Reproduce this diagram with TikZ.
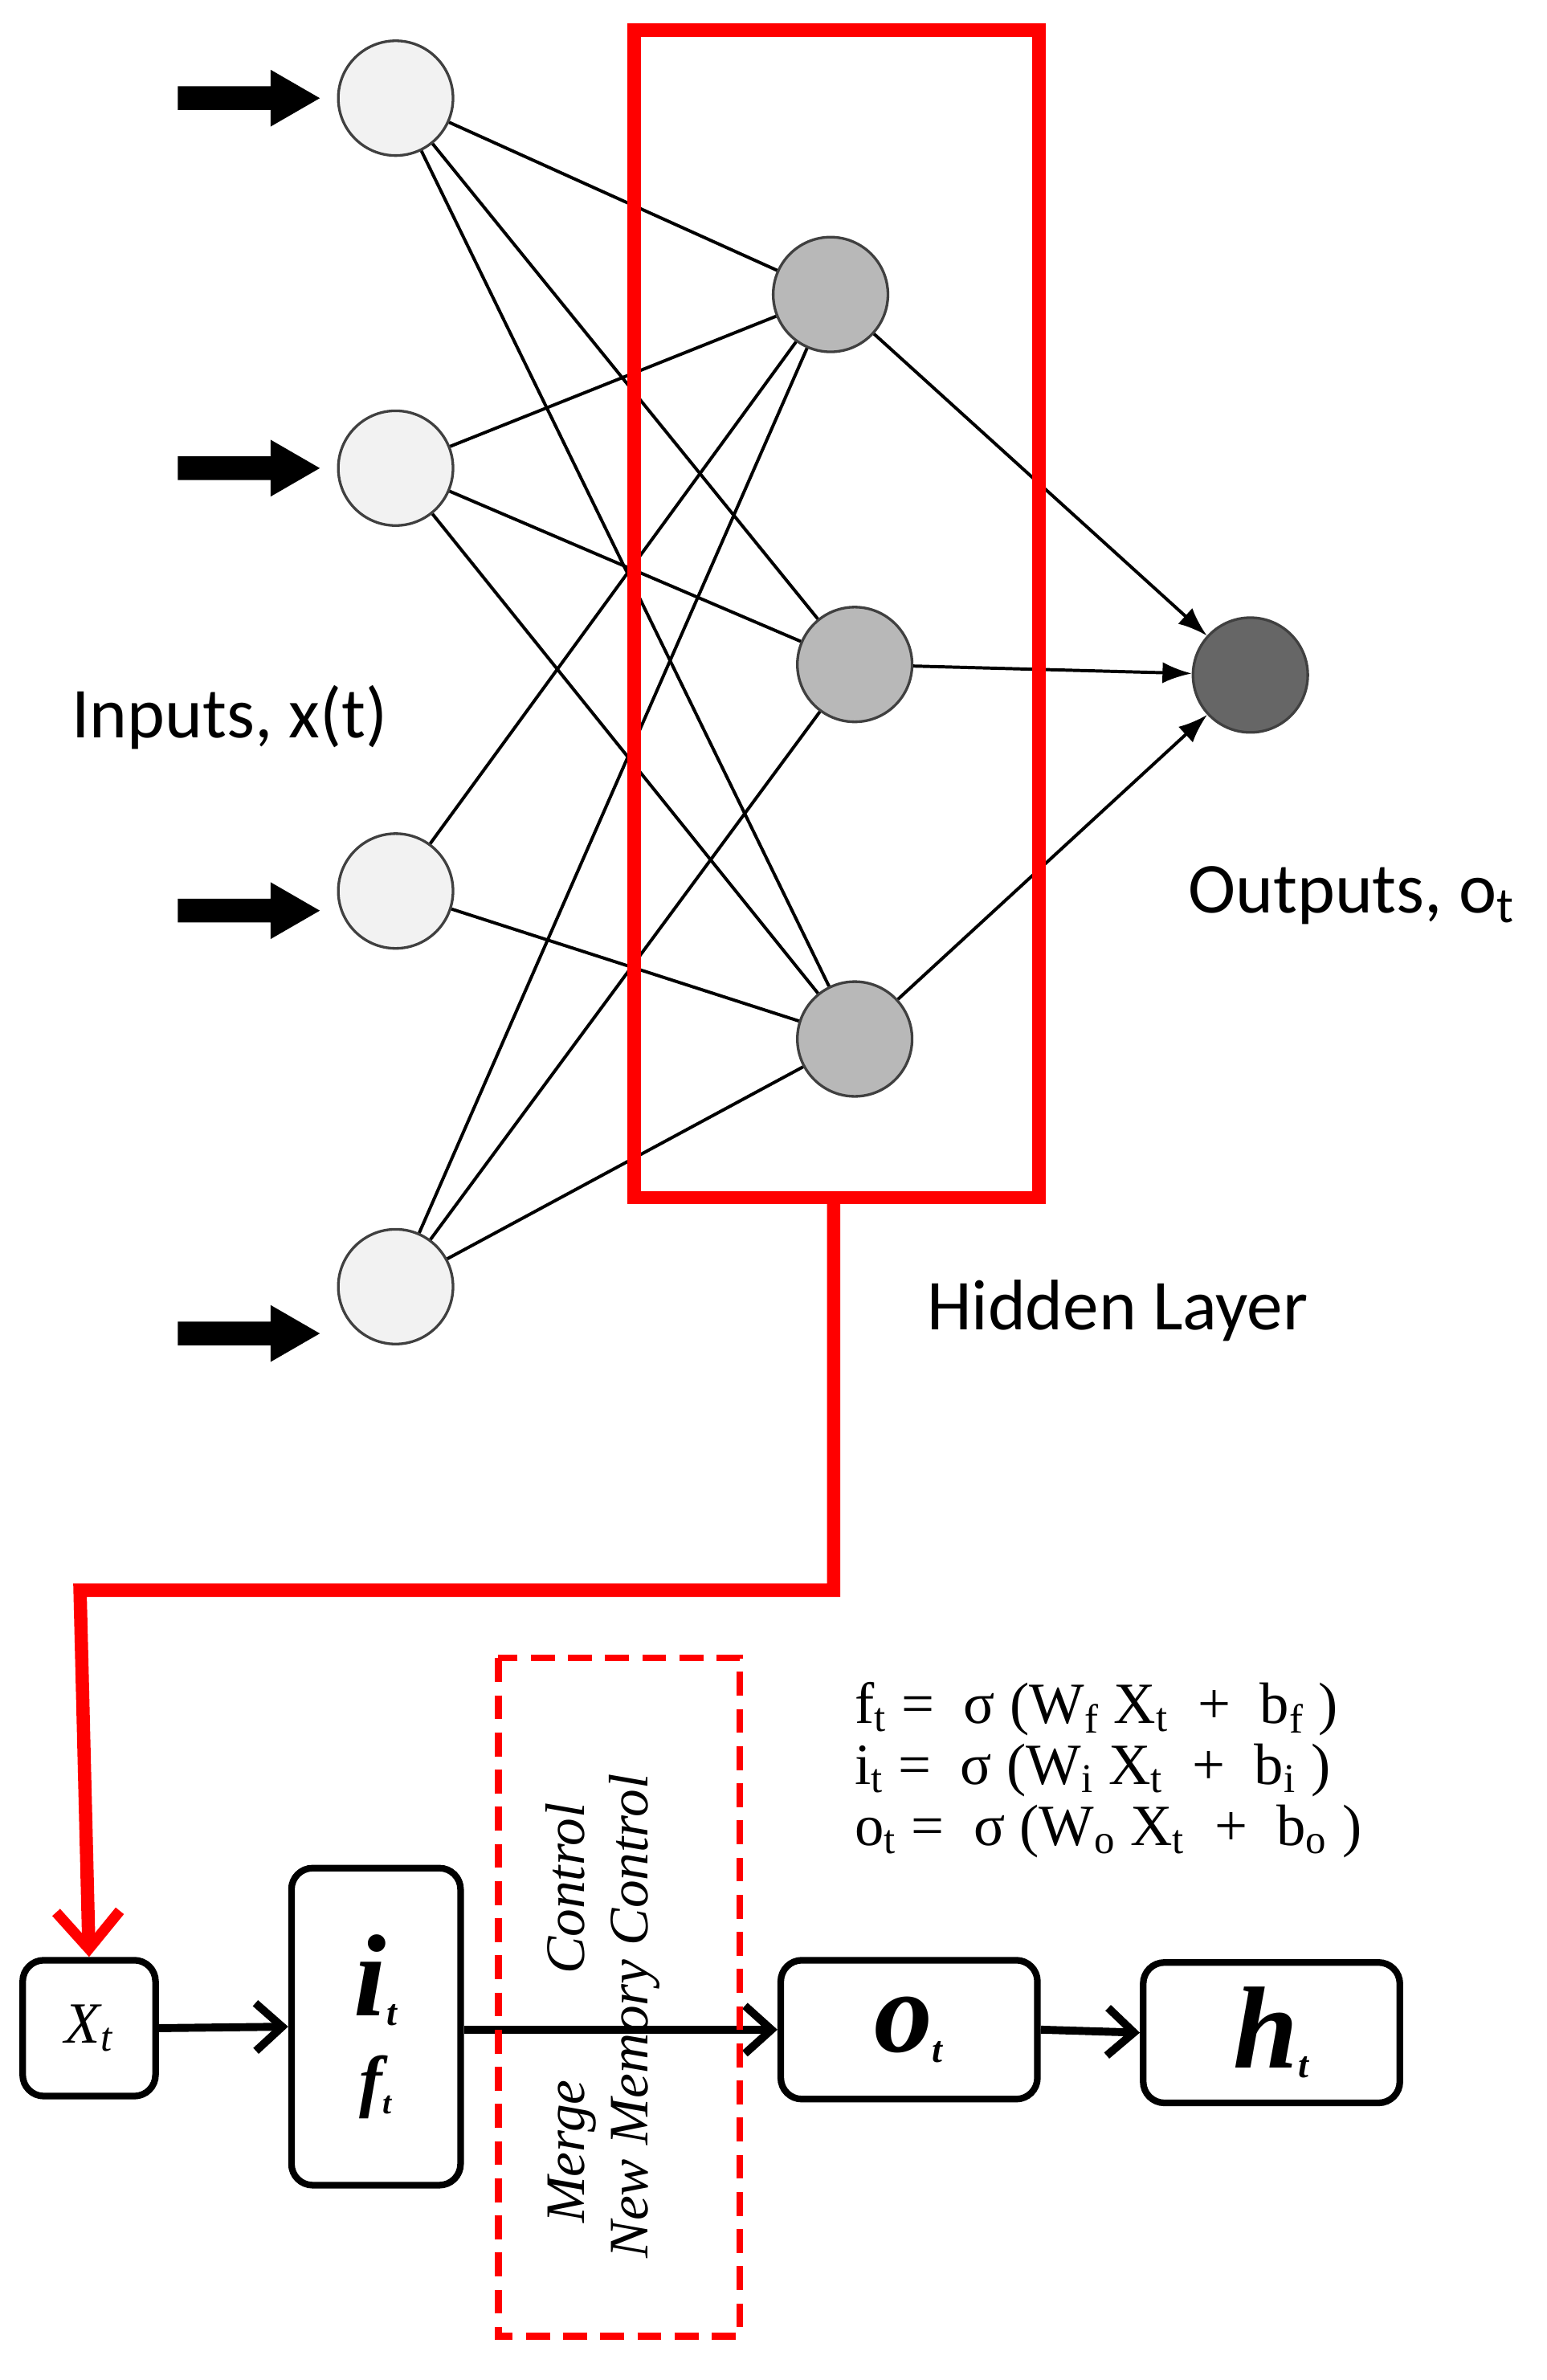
\documentclass[tikz,border=0pt]{standalone}
\usepackage{fontspec}
\setmainfont{Carlito}
\newfontfamily\eqf{Liberation Serif}
\usetikzlibrary{arrows.meta,shapes.arrows}
\begin{document}
\begin{tikzpicture}[x=0.02cm,y=-0.02cm,
 neu/.style={circle,draw=black!75,line width=1pt,minimum size=1.52cm,inner sep=0},
 inn/.style={neu,fill=black!5},
 hid/.style={neu,fill=black!28},
 outn/.style={neu,fill=black!60},
 conn/.style={line width=1.2pt},
 blk/.style={single arrow,fill=black,draw=none,minimum height=1.88cm,text height=0.3cm,text depth=0pt,text width=1.0cm,single arrow head extend=0.22cm,inner sep=0,single arrow tip angle=60},
 box/.style={draw,line width=2.5pt,rounded corners=8pt,inner sep=0},
 barr/.style={line width=3pt,-{Straight Barb[length=10pt,width=18pt,line width=3pt]}},
 lbl/.style={font=\fontsize{27}{30}\selectfont}]
\useasboundingbox (0,0) rectangle (1024,1576);
\node[inn] (i1) at (262,65) {};
\node[inn] (i2) at (262,310) {};
\node[inn] (i3) at (262,590) {};
\node[inn] (i4) at (262,852) {};
\node[hid] (h1) at (550,195) {};
\node[hid] (h2) at (566,440) {};
\node[hid] (h3) at (566,688) {};
\node[outn] (o) at (828,447) {};
\foreach \a in {i1,i2,i4}{\foreach \b in {h1,h2,h3}{\draw[conn] (\a) -- (\b);}}
\draw[conn] (i3) -- (h1);
\draw[conn] (i3) -- (h3);
\foreach \b in {h1,h2,h3}{\draw[conn,-{Latex[length=11pt,width=8pt]}] (\b) -- (o);}
\node[blk] (a1) at (158,65) {};
\node[blk] (a2) at (158,310) {};
\node[blk] (a3) at (158,603) {};
\node[blk] (a4) at (158,883) {};
\draw[red,line width=5pt] (420,20) rectangle (688,793);
\coordinate (r0) at (552,793);
\node[lbl] (tin) at (152,475) {Inputs, x(t)};
\node[lbl] (tout) at (895,593) {Outputs, o\textsubscript{t}};
\node[lbl] (thid) at (740,868) {Hidden Layer};
\node[box,minimum width=1.76cm,minimum height=1.8cm] (x) at (59,1343) {\eqf\itshape\fontsize{22}{22}\selectfont X\textsubscript{t}};
\node[box,minimum width=2.24cm,minimum height=4.2cm,align=center] (g) at (249,1342) {\eqf\bfseries\itshape\fontsize{44}{44}\selectfont i\textsubscript{\fontsize{14}{14}\selectfont t}\\[10pt]\eqf\bfseries\itshape\fontsize{26}{26}\selectfont f\textsubscript{\fontsize{12}{12}\selectfont t}};
\node[box,minimum width=3.4cm,minimum height=1.84cm] (ot) at (602,1344) {\eqf\bfseries\itshape\fontsize{44}{44}\selectfont o\textsubscript{\fontsize{14}{14}\selectfont t}};
\node[box,minimum width=3.4cm,minimum height=1.86cm] (ht) at (842,1346) {\eqf\bfseries\itshape\fontsize{44}{44}\selectfont h\textsubscript{\fontsize{14}{14}\selectfont t}};
\draw[red,line width=5pt,-{Straight Barb[length=14pt,width=24pt,line width=4pt]}] (r0) -- (552,1053) -- (53,1053) -- (x.north);
\draw[barr] (x.east) -- (g.west);
\draw[barr] (g.east|-ot.west) -- (ot.west);
\draw[barr] (ot.east) -- (ht.west);
\draw[red,line width=2.5pt,dash pattern=on 9pt off 5pt] (330,1098) rectangle (490,1547);
\node[rotate=90,font=\eqf\itshape\fontsize{21}{21}\selectfont] (m1) at (378,1333) {Merge\hspace{1.4cm}Control};
\node[rotate=90,font=\eqf\itshape\fontsize{21}{21}\selectfont] (m2) at (420,1335) {New Memory Control};
\node[anchor=west,align=left,font=\eqf\fontsize{22}{23}\selectfont] (eq) at (560,1172) {f\textsubscript{t} =\ \ σ (W\textsubscript{f} X\textsubscript{t}\ \ +\ \ b\textsubscript{f} )\\ i\textsubscript{t} =\ \ σ (W\textsubscript{i} X\textsubscript{t}\ \ +\ \ b\textsubscript{i} )\\ o\textsubscript{t} =\ \ σ (W\textsubscript{o} X\textsubscript{t}\ \ +\ \ b\textsubscript{o} )};
\end{tikzpicture}
\end{document}
